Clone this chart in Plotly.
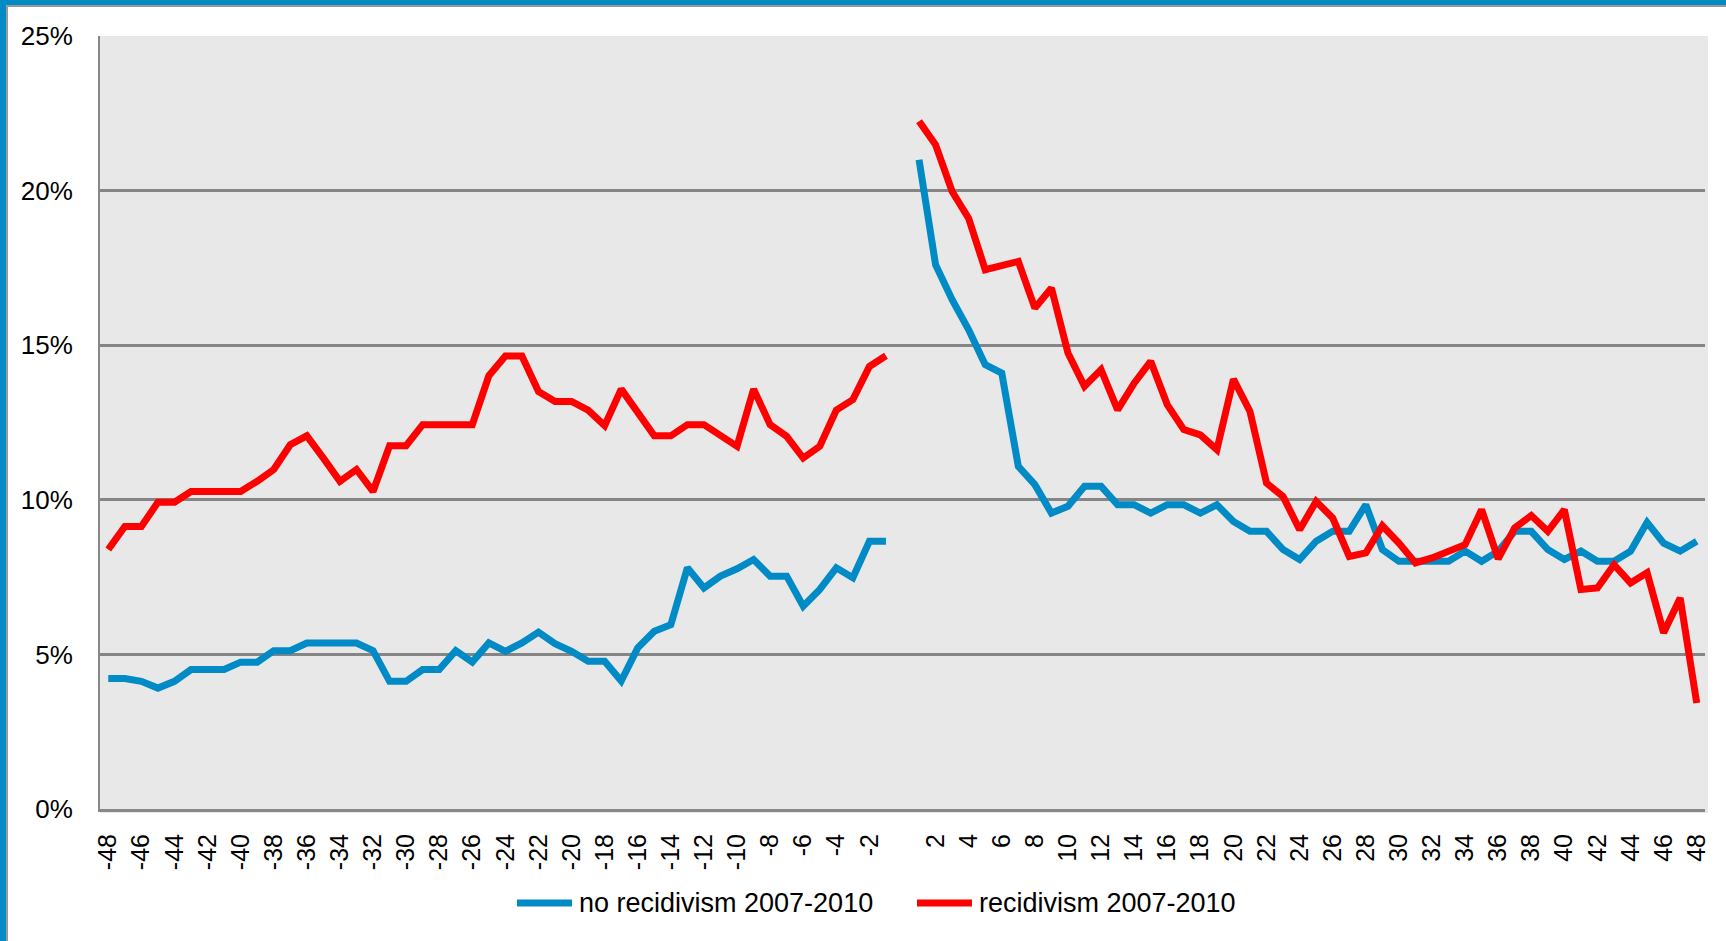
# ~~~ IMPORTS ~~~
import plotly.graph_objects as go

# ~~~ DATA ~~~
# Months before / after the event (0 has no data, left blank on the axis).
months_before = list(range(-48, 0))
months_after = list(range(1, 49))

no_recid_before = [4.22, 4.22, 4.13, 3.91, 4.13, 4.51, 4.51, 4.51, 4.75, 4.75,
                   5.12, 5.12, 5.37, 5.37, 5.37, 5.37, 5.12, 4.13, 4.13, 4.51,
                   4.51, 5.12, 4.75, 5.37, 5.10, 5.37, 5.72, 5.35, 5.10, 4.78,
                   4.78, 4.14, 5.21, 5.75, 5.96, 7.80, 7.15, 7.53, 7.77, 8.07,
                   7.53, 7.53, 6.56, 7.10, 7.80, 7.48, 8.66, 8.66]
recid_before = [8.39, 9.14, 9.14, 9.92, 9.92, 10.27, 10.27, 10.27, 10.27, 10.60,
                10.98, 11.78, 12.07, 11.35, 10.60, 10.98, 10.27, 11.75, 11.75, 12.43,
                12.43, 12.43, 12.43, 14.01, 14.65, 14.65, 13.50, 13.18, 13.18, 12.90,
                12.40, 13.58, 12.86, 12.07, 12.07, 12.43, 12.43, 12.05, 11.73, 13.58,
                12.43, 12.05, 11.35, 11.73, 12.90, 13.24, 14.31, 14.66]

no_recid_after = [21.0, 17.6, 16.47, 15.5, 14.37, 14.1, 11.08, 10.49, 9.57, 9.79,
                  10.44, 10.44, 9.84, 9.84, 9.57, 9.84, 9.84, 9.57, 9.84, 9.30,
                  8.98, 8.98, 8.39, 8.07, 8.66, 8.98, 8.98, 9.84, 8.39, 8.01,
                  8.01, 8.01, 8.01, 8.34, 8.01, 8.34, 8.98, 8.98, 8.39, 8.07,
                  8.34, 8.01, 8.01, 8.34, 9.27, 8.60, 8.34, 8.66]
recid_after = [22.24, 21.48, 19.97, 19.1, 17.44, 17.55, 17.71, 16.2, 16.85, 14.75,
               13.67, 14.21, 12.91, 13.77, 14.48, 13.08, 12.27, 12.1, 11.62, 13.9,
               12.86, 10.54, 10.11, 9.03, 9.95, 9.41, 8.17, 8.28, 9.16, 8.60,
               7.96, 8.12, 8.34, 8.55, 9.68, 8.09, 9.09, 9.49, 8.98, 9.68,
               7.10, 7.15, 7.90, 7.31, 7.64, 5.70, 6.82, 3.43]

series_names = ["no recidivism 2007-2010", "recidivism 2007-2010"]
series_colors = ["#008BC6", "#FF0000"]
y_ticks = [0, 5, 10, 15, 20, 25]
x_ticks = [m for m in range(-48, 49, 2) if m != 0]

# ~~~ FIGURE ~~~
W, H = 1726, 941
L, R, T, B = 100, 21, 36, 132
pw, ph = W - L - R, H - T - B

def px_x(p):
    return (p - L) / pw

def px_y(p):
    return (H - B - p) / ph

x_all = months_before + [0] + months_after
fig = go.Figure()
for name, color, before, after in zip(series_names, series_colors,
                                      [no_recid_before, recid_before],
                                      [no_recid_after, recid_after]):
    fig.add_trace(go.Scatter(x=x_all, y=before + [None] + after,
                             mode="lines", name=name, showlegend=False,
                             line=dict(color=color, width=7)))

font = "Liberation Sans, Arial, sans-serif"

# Legend drawn by hand (Excel style: long line sample, text right next to it)
legend_y = px_y(903)
legend_pos = [(517, 572, 577), (917, 972, 977)]
shapes, annotations = [], []
for (l0, l1, tx), name, color in zip(legend_pos, series_names, series_colors):
    shapes.append(dict(type="line", xref="paper", yref="paper",
                       x0=px_x(l0), x1=px_x(l1), y0=legend_y, y1=legend_y,
                       line=dict(color=color, width=7)))
    annotations.append(dict(text=name, xref="paper", yref="paper", showarrow=False,
                            x=px_x(tx), y=legend_y, xanchor="left", yanchor="middle",
                            font=dict(size=27, color="black")))

# slight shadow of the plot frame
shapes.append(dict(type="rect", xref="paper", yref="paper", layer="below",
                   x0=0, x1=px_x(W - R + 3), y0=px_y(H - B + 4), y1=1,
                   fillcolor="#E8E8E8", line=dict(width=0)))
# blue page frame, top and left
shapes += [
    dict(type="rect", xref="paper", yref="paper",
         x0=px_x(0), x1=px_x(W), y0=px_y(5), y1=px_y(0),
         fillcolor="#008BC4", line=dict(width=0)),
    dict(type="rect", xref="paper", yref="paper",
         x0=px_x(0), x1=px_x(6), y0=px_y(H), y1=px_y(0),
         fillcolor="#008BC4", line=dict(width=0)),
    dict(type="line", xref="paper", yref="paper",
         x0=px_x(6), x1=px_x(W), y0=px_y(6), y1=px_y(6),
         line=dict(color="#999999", width=2)),
    dict(type="line", xref="paper", yref="paper",
         x0=px_x(7), x1=px_x(7), y0=px_y(H), y1=px_y(6),
         line=dict(color="#999999", width=2)),
]

fig.update_layout(
    width=W, height=H,
    margin=dict(l=L, r=R, t=T, b=B, pad=0),
    paper_bgcolor="white",
    plot_bgcolor="#E6E6E6",
    font=dict(family=font, color="black"),
    showlegend=False,
    xaxis=dict(range=[-48.5, 48.5], tickvals=x_ticks, ticktext=[str(v) for v in x_ticks],
               tickangle=-90, tickfont=dict(size=25),
               ticks="outside", ticklen=12, tickcolor="rgba(0,0,0,0)",
               showgrid=False, zeroline=False,
               showline=True, linecolor="#888888", linewidth=3),
    yaxis=dict(range=[0, 25], tickvals=y_ticks, ticktext=[f"{v}%" for v in y_ticks],
               tickfont=dict(size=26),
               ticks="outside", ticklen=20, tickcolor="rgba(0,0,0,0)",
               showgrid=True, gridcolor="#858585", gridwidth=2.5, zeroline=False,
               showline=True, linecolor="#888888", linewidth=2),
    shapes=shapes,
    annotations=annotations,
)

# the page body has an 8px default margin; drop it so the figure fills the window
fig.write_html("out.html", config={"displayModeBar": False},
               post_script="document.body.style.margin='0';")
